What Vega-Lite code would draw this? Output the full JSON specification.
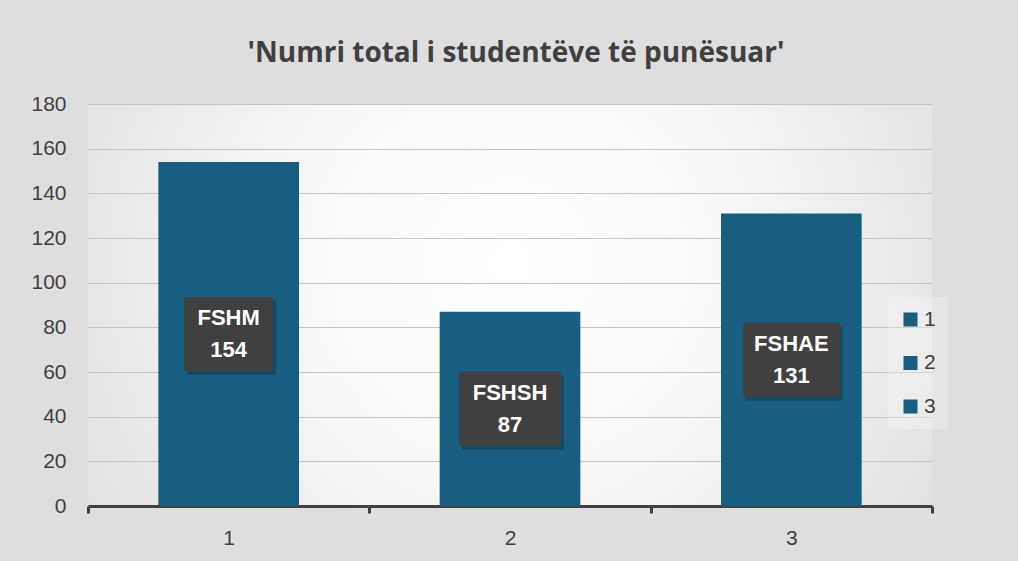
{
  "$schema": "https://vega.github.io/schema/vega-lite/v6.json",
  "width": 844,
  "height": 402,
  "autosize": {"type": "none"},
  "padding": {"left": 88, "top": 104, "right": 86, "bottom": 55},
  "background": "#dedede",
  "view": {
    "stroke": null,
    "fill": {
      "gradient": "radial",
      "x1": 0.5, "y1": 0.45, "r1": 0,
      "x2": 0.5, "y2": 0.45, "r2": 0.72,
      "stops": [
        {"offset": 0, "color": "#ffffff"},
        {"offset": 0.3, "color": "#fafafa"},
        {"offset": 1, "color": "#d8d8d8"}
      ]
    }
  },
  "title": {
    "text": "'Numri total i studentëve të punësuar'",
    "font": "Open Sans",
    "fontSize": 28,
    "fontWeight": "bold",
    "color": "#404040",
    "anchor": "middle",
    "baseline": "alphabetic",
    "offset": 3,
    "dx": 6,
    "letterSpacing": 1.1
  },
  "config": {
    "font": "Liberation Sans",
    "axis": {"labelFont": "Liberation Sans", "labelFontSize": 21, "labelColor": "#404040", "title": null}
  },
  "data": {
    "values": [
      {"category": "1", "faculty": "FSHM", "value": 154, "label": "FSHM\n154"},
      {"category": "2", "faculty": "FSHSH", "value": 87, "label": "FSHSH\n87"},
      {"category": "3", "faculty": "FSHAE", "value": 131, "label": "FSHAE\n131"}
    ]
  },
  "resolve": {"scale": {"y": "independent"}, "axis": {"y": "independent"}},
  "layer": [
    {
      "mark": {"type": "bar", "color": "#185e80", "width": {"band": 0.5}},
      "encoding": {
        "x": {
          "field": "category", "type": "nominal",
          "scale": {"paddingInner": 0, "paddingOuter": 0},
          "axis": {
            "labelAngle": 0, "domainColor": "#404040", "domainWidth": 3,
            "ticks": true, "tickBand": "extent", "tickColor": "#404040",
            "tickWidth": 3, "tickSize": 7, "labelPadding": 14, "grid": false
          }
        },
        "y": {
          "field": "value", "type": "quantitative",
          "scale": {"domain": [0, 180]},
          "axis": {
            "values": [0, 20, 40, 60, 80, 100, 120, 140, 160, 180],
            "domain": false, "ticks": false, "labelPadding": 22,
            "gridColor": "#c4c4c4", "gridWidth": 1
          }
        },
        "color": {
          "field": "category", "type": "nominal",
          "scale": {"range": ["#185e80", "#185e80", "#185e80"]},
          "legend": {
            "title": null, "orient": "none", "legendX": 800, "legendY": 193,
            "padding": 12, "fillColor": "rgba(255,255,255,0.25)",
            "symbolType": "square", "symbolSize": 196, "symbolStrokeWidth": 0,
            "symbolOpacity": 1,
            "labelFont": "Liberation Sans", "labelFontSize": 21, "labelColor": "#404040",
            "labelOffset": 3, "rowPadding": 21.5
          }
        }
      }
    },
    {
      "encoding": {
        "x": {"field": "category", "type": "nominal"},
        "y": {"field": "value", "type": "quantitative", "scale": {"domain": [0, 360]}, "axis": null}
      },
      "layer": [
        {
          "mark": {"type": "point", "filled": true, "fill": "#000000", "opacity": 0.22, "strokeWidth": 0, "size": 10000, "xOffset": 3, "yOffset": 4},
          "encoding": {
            "shape": {
              "field": "faculty", "type": "nominal",
              "scale": {
                "domain": ["FSHM", "FSHSH", "FSHAE"],
                "range": ["M-0.89,-0.74H0.89V0.74H-0.89Z", "M-1.02,-0.74H1.02V0.74H-1.02Z", "M-0.97,-0.74H0.97V0.74H-0.97Z"]
              },
              "legend": null
            }
          }
        },
        {
          "mark": {"type": "point", "filled": true, "fill": "#404040", "opacity": 1, "strokeWidth": 0, "size": 10000},
          "encoding": {
            "shape": {
              "field": "faculty", "type": "nominal",
              "scale": {
                "domain": ["FSHM", "FSHSH", "FSHAE"],
                "range": ["M-0.89,-0.74H0.89V0.74H-0.89Z", "M-1.02,-0.74H1.02V0.74H-1.02Z", "M-0.97,-0.74H0.97V0.74H-0.97Z"]
              },
              "legend": null
            }
          }
        },
        {
          "mark": {
            "type": "text", "color": "#ffffff", "font": "Liberation Sans", "fontSize": 22,
            "fontWeight": "bold", "lineBreak": "\n", "lineHeight": 32,
            "align": "center", "baseline": "middle", "dy": -16
          },
          "encoding": {"text": {"field": "label"}}
        }
      ]
    }
  ]
}
